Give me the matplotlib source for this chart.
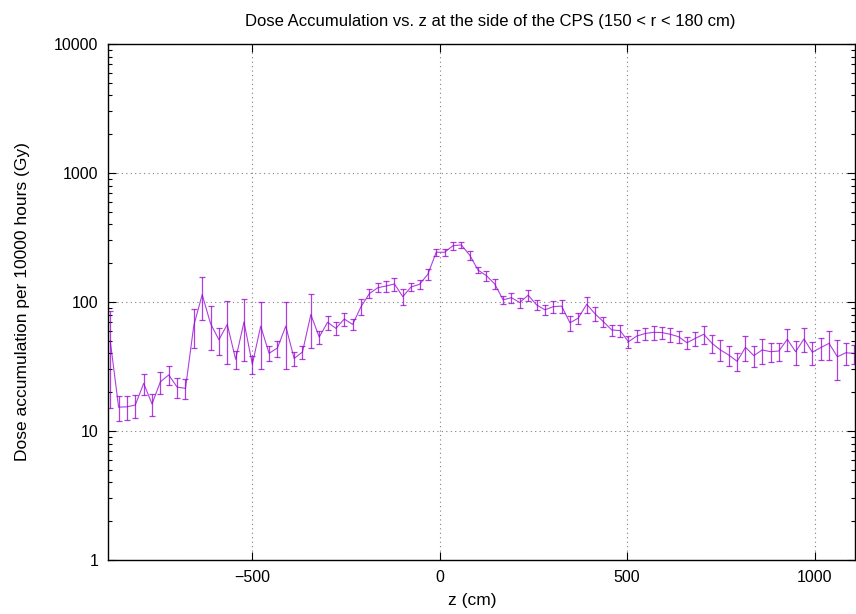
import matplotlib
matplotlib.use('Agg')
import matplotlib.pyplot as plt
from matplotlib.ticker import LogLocator, FixedLocator, FuncFormatter, NullFormatter

plt.rcParams['font.family'] = ['Liberation Sans', 'DejaVu Sans']

# bin positions along z (cm)
z = [-879.0, -856.7, -834.4, -812.1, -789.8, -767.5, -745.2, -722.9, -700.6, -678.3,
     -656.0, -633.7, -611.4, -589.1, -566.8, -544.5, -522.2, -499.9, -477.6, -455.3,
     -433.0, -410.7, -388.4, -366.1, -343.8, -321.5, -299.2, -276.9, -254.6, -232.3,
     -210.0, -187.7, -165.4, -143.1, -120.8, -98.5, -76.2, -53.9, -31.6, -9.3,
     13.0, 35.3, 57.6, 79.9, 102.2, 124.5, 146.8, 169.1, 191.4, 213.7,
     236.0, 258.3, 280.6, 302.9, 325.2, 347.5, 369.8, 392.1, 414.4, 436.7,
     459.0, 481.3, 503.6, 525.9, 548.2, 570.5, 592.8, 615.1, 637.4, 659.7,
     682.0, 704.3, 726.6, 748.9, 771.2, 793.5, 815.8, 838.1, 860.4, 882.7,
     905.0, 927.3, 949.6, 971.9, 994.2, 1016.5, 1038.8, 1061.1, 1083.4, 1105.7]

# dose per 10000 hours (Gy)
dose = [50, 15.3, 15.4, 15.9, 23.4, 16.2, 24.1, 27.2, 21.9, 21.4,
        66, 114, 68, 51, 67, 36, 70, 33, 65, 40,
        44, 65, 36.5, 41, 80, 53.5, 69.6, 62.5, 73.8, 67,
        92, 116, 129, 133, 138, 110, 131, 137, 164, 243,
        243, 273, 277, 231, 177, 160, 138, 104, 108, 99,
        113, 95, 87, 92, 93, 69, 75, 96, 81, 70.4,
        60.7, 60, 49.2, 54.5, 57, 58.2, 58, 56.2, 53.8, 48.3,
        52.3, 56.2, 47.8, 42.5, 38.8, 34.7, 44.5, 38.4, 42.5, 41.2,
        41.7, 51.4, 41.2, 51.7, 40.8, 44.3, 47.8, 37.6, 40.4, 40]

# error (Gy)
err = [35, 3.45, 3.25, 3.25, 4.25, 3.2, 4.6, 4.55, 3.85, 3.7,
       21.8, 41, 25.7, 12, 34, 5.7, 35, 5.2, 35, 5.2,
       6.2, 35, 4.6, 4.75, 35.7, 6.25, 8.4, 7.2, 9, 6.5,
       12.8, 9.4, 10.5, 12.8, 15.7, 16, 9.8, 10.5, 15.5, 15.5,
       15.5, 19, 14, 19, 8.5, 13.5, 13, 7.2, 9.3, 9,
       11.5, 8, 8, 9.6, 11, 9.4, 7.2, 14, 10, 6.4,
       6.2, 6.2, 5, 5.7, 6.4, 7.2, 6.1, 7, 6.1, 5,
       6.6, 9, 7.6, 7.8, 6.9, 5.4, 9.6, 6.8, 9.6, 6.9,
       6.8, 9.9, 9, 11, 8.6, 8.5, 12, 12.8, 7.7, 6.8]

fig = plt.figure(figsize=(8.56, 6.14), dpi=100)
ax = fig.add_axes([108 / 856, 54 / 614, 747 / 856, 516 / 614])

purple = '#9400d3'
ax.errorbar(z, dose, yerr=err, color=purple, alpha=0.75, linewidth=0.8,
            elinewidth=0.9, capsize=2.4, capthick=0.9)

ax.set_yscale('log')
ax.set_ylim(1, 10000)
ax.set_xlim(-885, 1108)

ax.xaxis.set_major_locator(FixedLocator([-500, 0, 500, 1000]))
ax.yaxis.set_major_locator(LogLocator(base=10))
ax.yaxis.set_minor_locator(LogLocator(base=10, subs=range(2, 10)))
ax.yaxis.set_major_formatter(FuncFormatter(lambda v, p: '%d' % round(v)))
ax.yaxis.set_minor_formatter(NullFormatter())

ax.tick_params(which='both', direction='in', top=True, right=True,
               labelsize=11.5, pad=7)
ax.tick_params(which='major', length=6, width=0.8)
ax.tick_params(which='minor', length=3, width=0.8)
for s in ax.spines.values():
    s.set_linewidth(1.0)

ax.grid(True, which='major', linestyle=(0, (1, 3)), color='#808080', linewidth=0.8)

ax.set_title('Dose Accumulation vs. z at the side of the CPS (150 < r < 180 cm)',
             fontsize=12, pad=13, x=0.512)
ax.set_xlabel('z (cm)', fontsize=12.5, labelpad=6, x=0.487)
ax.set_ylabel('Dose accumulation per 10000 hours (Gy)', fontsize=12.5, labelpad=17)

fig.savefig('out.png', dpi=100)
